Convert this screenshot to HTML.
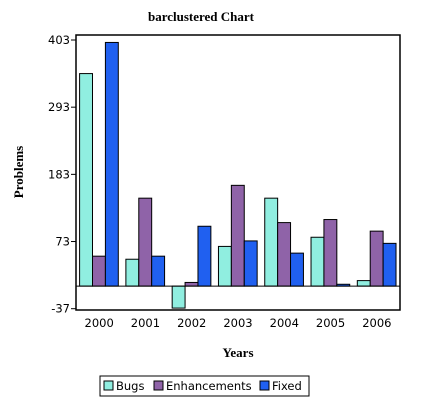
<!DOCTYPE html>
<html><head><meta charset="utf-8"><style>
body{margin:0;background:#fff;}
svg text{font-family:"DejaVu Sans","Liberation Sans",sans-serif;}
.st{font-family:"Liberation Serif",serif;font-weight:bold;font-size:13px;}
</style></head><body>
<svg id="chart" width="421" height="412" xmlns="http://www.w3.org/2000/svg">
<text class="st" x="201" y="21" text-anchor="middle">barclustered Chart</text>
<text class="st" transform="translate(23,172) rotate(-90)" text-anchor="middle">Problems</text>
<text class="st" x="238" y="357" text-anchor="middle">Years</text>
<g id="plot"></g>
<g>
<rect x="100" y="376" width="209" height="20" fill="#fff" stroke="#000"/>
<rect x="104" y="381" width="9" height="9" fill="#90eee0" stroke="#000"/>
<text x="116" y="390" font-size="11.5">Bugs</text>
<rect x="154" y="381" width="9" height="9" fill="#8f63a8" stroke="#000"/>
<text x="166" y="390" font-size="11.5">Enhancements</text>
<rect x="260" y="381" width="9" height="9" fill="#2060f0" stroke="#000"/>
<text x="272" y="390" font-size="11.5">Fixed</text>
</g>
</svg>
<script>
const categories=["2000","2001","2002","2003","2004","2005","2006"];
const bugs=[348,44,-36,65,144,80,9];
const enhancements=[49,144,6,165,104,109,90];
const fixed=[399,49,98,74,54,3,70];
const yTicks=[403,293,183,73,-37];
const colors=["#90eee0","#8f63a8","#2060f0"];
const names=["bugs","enhancements","fixed"];
const L=76,R=400,T=35,B=310,yMin=-37,yMax=403,yTop=40,yBot=308.7;
function y(v){return yBot-(v-yMin)*(yBot-yTop)/(yMax-yMin);}
const cw=(R-L)/categories.length;
function x(i){return L+i*cw;}
const ns="http://www.w3.org/2000/svg";
const g=document.getElementById("plot");
function mk(t,a){const e=document.createElementNS(ns,t);for(const k in a)e.setAttribute(k,a[k]);g.appendChild(e);return e;}
const fr=mk("rect",{x:L,y:T,width:R-L,height:B-T,fill:"#fff",stroke:"#000","stroke-width":1.5});


yTicks.forEach(t=>{
 const l=mk("line",{x1:L-5,x2:L,y1:y(t),y2:y(t),stroke:"#000"});
 
 
 const tx=mk("text",{x:L-6,y:y(t)+4,"text-anchor":"end","font-size":11.5});
 tx.textContent=t;
 
 
});
const series=[bugs,enhancements,fixed];
const bw=12.9,off=3.6;
categories.forEach((c,i)=>{
 series.forEach((s,j)=>{
  const v=s[i];const y0=y(0),y1=y(v);
  const r=mk("rect",{x:x(i)+off+j*bw,y:Math.min(y0,y1),width:bw,height:Math.abs(y1-y0),fill:colors[j],stroke:"#000","stroke-width":1});
  
  
 });
 const tx=mk("text",{x:x(i)+cw/2,y:B+17,"text-anchor":"middle","font-size":11.5});
 tx.textContent=c;
 
 
});
const z=mk("line",{x1:L,x2:R,y1:y(0),y2:y(0),stroke:"#000"});


</script>
</body></html>
